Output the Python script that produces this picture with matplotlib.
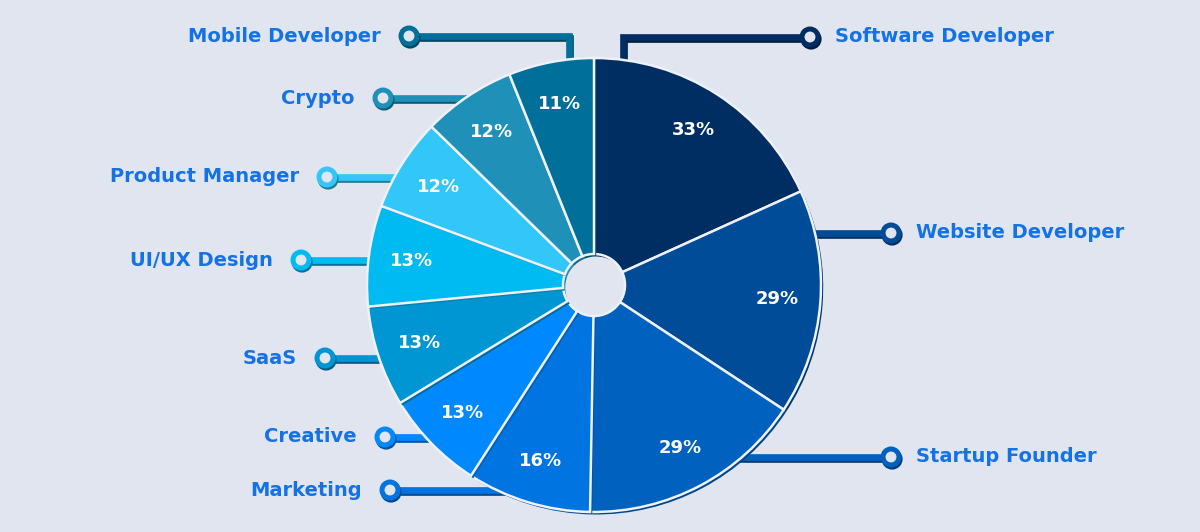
import numpy as np
import matplotlib
matplotlib.use('Agg')
import matplotlib.pyplot as plt
import matplotlib.patheffects as pe
from matplotlib.colors import to_rgb

# --- Data ---
categories = ['Software Developer', 'Website Developer', 'Startup Founder', 'Marketing',
              'Creative', 'SaaS', 'UI/UX Design', 'Product Manager', 'Crypto', 'Mobile Developer']
shares = [33, 29, 29, 16, 13, 13, 13, 12, 12, 11]
slice_colors = ['#002E63', '#004C98', '#0061BF', '#0074E0', '#0088FF',
                '#0096D4', '#00BAF2', '#33C7F9', '#1F91B9', '#006F99']

# --- Layout (pixel coordinates, y measured from the top of the picture) ---
W, H = 1200, 532
cx, cy = 594, 285
R = 227
hole = 31
# ring marker position of each callout
ring_xy = [(810, 37), (891, 233), (891, 457), (390, 490), (385, 437),
           (325, 358), (301, 260), (327, 177), (383, 98), (409, 36)]
# callouts that bend down into the pie (x of the vertical part)
elbow_x = {0: 623, 9: 569}

BG = '#E1E5F0'
LABEL_COLOR = '#1572E4'


def darker(c, f=0.72):
    r, g, b = to_rgb(c)
    return (r * f, g * f, b * f)


def plot_job_pie():
    fig = plt.figure(figsize=(W / 100, H / 100), dpi=100)
    fig.patch.set_facecolor(BG)
    ax = fig.add_axes([0, 0, 1, 1])
    ax.set_facecolor(BG)

    font = ['DejaVu Sans']

    # --- Callout lines (drawn behind the pie) ---
    for i, (name, col) in enumerate(zip(categories, slice_colors)):
        rx, ry = ring_xy[i]
        right = rx > cx
        if i in elbow_x:
            ex = elbow_x[i]
            xs = [rx, ex, ex]
            ys = [ry, ry, cy - 0.8 * R]
        else:
            dy = ry - cy
            reach = np.sqrt(max((0.8 * R) ** 2 - dy ** 2, 0))
            ex = cx + reach if right else cx - reach
            xs = [rx, ex]
            ys = [ry, ry]
        shadow = [pe.SimpleLineShadow(offset=(0.8, -1.5), shadow_color=darker(col, 0.62),
                                      alpha=1, rho=1), pe.Normal()]
        ax.plot(xs, [H - y for y in ys], color=col, lw=4.8, solid_capstyle='butt',
                solid_joinstyle='miter', zorder=1, path_effects=shadow)
        ax.plot([rx], [H - ry], marker='o', markersize=11.5, markeredgewidth=3.6,
                markeredgecolor=col, markerfacecolor=BG, zorder=1.5, path_effects=shadow)
        # category label
        if right:
            ax.text(rx + 25, H - ry, name, ha='left', va='center', fontsize=14,
                    fontweight='bold', color=LABEL_COLOR, family=font, zorder=5)
        else:
            ax.text(rx - 28, H - ry, name, ha='right', va='center', fontsize=14,
                    fontweight='bold', color=LABEL_COLOR, family=font, zorder=5)

    # --- Pie ---
    wedges, _ = ax.pie(shares, colors=slice_colors, startangle=90, counterclock=False,
                       radius=R, center=(cx, H - cy),
                       wedgeprops=dict(width=R - hole, edgecolor='#EEF1F8', linewidth=1.8))
    for w, col in zip(wedges, slice_colors):
        w.set_zorder(2)
        w.set_path_effects([pe.SimplePatchShadow(offset=(1.6, -1.8), shadow_rgbFace=darker(col),
                                                 alpha=1, rho=1), pe.Normal()])

    # percentage labels inside each slice
    for w, v in zip(wedges, shares):
        mid = np.deg2rad((w.theta1 + w.theta2) / 2)
        ax.text(cx + 0.81 * R * np.cos(mid), H - cy + 0.81 * R * np.sin(mid), f'{v}%',
                ha='center', va='center', fontsize=13, fontweight='bold', color='white',
                family=font, zorder=6)

    ax.set_xlim(0, W)
    ax.set_ylim(0, H)
    ax.set_aspect('equal')
    ax.axis('off')

    fig.savefig('out.png', dpi=100, facecolor=BG)


if __name__ == '__main__':
    plot_job_pie()
